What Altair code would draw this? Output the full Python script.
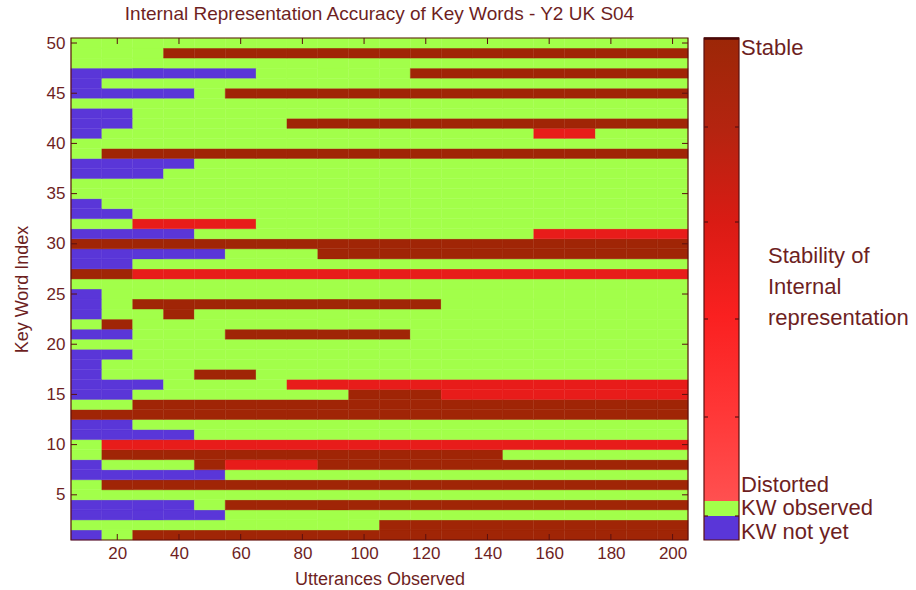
import altair as alt
import pandas as pd

# ---------------- data ----------------
utterances = [10, 20, 30, 40, 50, 60, 70, 80, 90, 100,
              110, 120, 130, 140, 150, 160, 170, 180, 190, 200]
key_words = list(range(1, 51))

# one string per key word (index 1 .. 50), one letter per utterance column
# B = KW not yet, G = KW observed, R = Distorted, S = Stable
kw_states = [
    "BGSSSSSSSSSSSSSSSSSS",  # 1
    "GGGGGGGGGGSSSSSSSSSS",  # 2
    "BBBBBGGGGGGGGGGGGGGG",  # 3
    "BBBBGSSSSSSSSSSSSSSS",  # 4
    "GGGGGGGGGGGGGGGGGGGG",  # 5
    "GSSSSSSSSSSSSSSSSSSS",  # 6
    "BBBBBGGGGGGGGGGGGGGG",  # 7
    "BGGGSRRRSSSSSSSSSSSS",  # 8
    "GSSSSSSSSSSSSSGGGGGG",  # 9
    "GRRRRRRRRRRRRRRRRRRR",  # 10
    "BBBBGGGGGGGGGGGGGGGG",  # 11
    "BBGGGGGGGGGGGGGGGGGG",  # 12
    "SSSSSSSSSSSSSSSSSSSS",  # 13
    "GGSSSSSSSSSSSSSSSSSS",  # 14
    "BBGGGGGGGSSSRRRRRRRR",  # 15
    "BBBGGGGRRRRRRRRRRRRR",  # 16
    "BGGGSSGGGGGGGGGGGGGG",  # 17
    "BGGGGGGGGGGGGGGGGGGG",  # 18
    "BBGGGGGGGGGGGGGGGGGG",  # 19
    "GGGGGGGGGGGGGGGGGGGG",  # 20
    "BBGGGSSSSSSGGGGGGGGG",  # 21
    "GSGGGGGGGGGGGGGGGGGG",  # 22
    "BGGSGGGGGGGGGGGGGGGG",  # 23
    "BGSSSSSSSSSSGGGGGGGG",  # 24
    "BGGGGGGGGGGGGGGGGGGG",  # 25
    "GGGGGGGGGGGGGGGGGGGG",  # 26
    "SSRRRRRRRRRRRRRRRRRR",  # 27
    "BBGGGGGGGGGGGGGGGGGG",  # 28
    "BBBBBGGGSSSSSSSSSSSS",  # 29
    "SSSSSSSSSSSSSSSSSSSS",  # 30
    "BBBBGGGGGGGGGGGRRRRR",  # 31
    "GGRRRRGGGGGGGGGGGGGG",  # 32
    "BBGGGGGGGGGGGGGGGGGG",  # 33
    "BGGGGGGGGGGGGGGGGGGG",  # 34
    "GGGGGGGGGGGGGGGGGGGG",  # 35
    "GGGGGGGGGGGGGGGGGGGG",  # 36
    "BBBGGGGGGGGGGGGGGGGG",  # 37
    "BBBBGGGGGGGGGGGGGGGG",  # 38
    "GSSSSSSSSSSSSSSSSSSS",  # 39
    "GGGGGGGGGGGGGGGGGGGG",  # 40
    "BGGGGGGGGGGGGGGRRGGG",  # 41
    "BBGGGGGSSSSSSSSSSSSS",  # 42
    "BBGGGGGGGGGGGGGGGGGG",  # 43
    "GGGGGGGGGGGGGGGGGGGG",  # 44
    "BBBBGSSSSSSSSSSSSSSS",  # 45
    "BGGGGGGGGGGGGGGGGGGG",  # 46
    "BBBBBBGGGGGSSSSSSSSS",  # 47
    "GGGGGGGGGGGGGGGGGGGG",  # 48
    "GGGSSSSSSSSSSSSSSSSS",  # 49
    "GGGGGGGGGGGGGGGGGGGG",  # 50
]

state_codes = ["B", "G", "R", "S"]
state_names = ["KW not yet", "KW observed", "Distorted", "Stable"]

x_ticks = [20, 40, 60, 80, 100, 120, 140, 160, 180, 200]
y_ticks = [5, 10, 15, 20, 25, 30, 35, 40, 45, 50]

legend_labels = ["Stable", "Distorted", "KW observed", "KW not yet"]
colorbar_title = ["Stability of", "Internal", "representation"]

# ---------------- styles ----------------
state_colors = ["#5a36d8", "#a2ff4a", "#e81c1a", "#a02506"]
txt = "#6e1f1f"
frame = "#5a1010"
font = "Liberation Sans"
W, H = 617, 502

code_to_name = dict(zip(state_codes, state_names))
records = []
for kw, row in zip(key_words, kw_states):
    assert len(row) == len(utterances)
    for u, c in zip(utterances, row):
        records.append({"x0": u - 5, "x1": u + 5, "y0": kw - 0.5, "y1": kw + 0.5,
                        "state": code_to_name[c]})
df = pd.DataFrame(records)

xscale = alt.Scale(domain=[5, 205], nice=False, zero=False)
yscale = alt.Scale(domain=[0.5, 50.5], nice=False, zero=False)
xtitle = "Utterances Observed"
ytitle = "Key Word Index"

heat = alt.Chart(df).mark_rect(strokeWidth=0.4).encode(
    x=alt.X("x0:Q", scale=xscale, title=xtitle,
            axis=alt.Axis(values=x_ticks, labelPadding=5, titlePadding=9)),
    x2="x1:Q",
    y=alt.Y("y0:Q", scale=yscale, title=ytitle,
            axis=alt.Axis(values=y_ticks, labelPadding=6, titlePadding=15)),
    y2="y1:Q",
    color=alt.Color("state:N", scale=alt.Scale(domain=state_names, range=state_colors), legend=None),
    stroke=alt.Color("state:N", scale=alt.Scale(domain=state_names, range=state_colors), legend=None),
)

xt = pd.DataFrame({"t": x_ticks})
yt = pd.DataFrame({"t": y_ticks})
tick_layers = [
    alt.Chart(xt).mark_rule(color=frame, strokeWidth=1).encode(
        x=alt.X("t:Q", title=xtitle), y=alt.value(H), y2=alt.value(H - 6)),
    alt.Chart(xt).mark_rule(color=frame, strokeWidth=1).encode(
        x=alt.X("t:Q", title=xtitle), y=alt.value(0), y2=alt.value(6)),
    alt.Chart(yt).mark_rule(color=frame, strokeWidth=1).encode(
        y=alt.Y("t:Q", title=ytitle), x=alt.value(0), x2=alt.value(6)),
    alt.Chart(yt).mark_rule(color=frame, strokeWidth=1).encode(
        y=alt.Y("t:Q", title=ytitle), x=alt.value(W), x2=alt.value(W - 6)),
]

one = pd.DataFrame({"a": [0]})
box = alt.Chart(one).mark_rect(fillOpacity=0, stroke=frame, strokeWidth=1.2).encode(
    x=alt.value(0), x2=alt.value(W), y=alt.value(0), y2=alt.value(H))

# colorbar (legend replica)
cb_x0, cb_x1 = 633, 668
cb_red_bottom, cb_green_bottom = 463, 478
grad = alt.LinearGradient(
    gradient="linear", x1=0, x2=0, y1=0, y2=1,
    stops=[alt.GradientStop(color="#9c2707", offset=0),
           alt.GradientStop(color="#b52410", offset=0.2),
           alt.GradientStop(color="#da1b14", offset=0.4),
           alt.GradientStop(color="#fa2020", offset=0.6),
           alt.GradientStop(color="#ff3636", offset=0.8),
           alt.GradientStop(color="#ff5050", offset=1.0)])
cb_red = alt.Chart(one).mark_rect(fill=grad).encode(
    x=alt.value(cb_x0), x2=alt.value(cb_x1), y=alt.value(0), y2=alt.value(cb_red_bottom))
cb_green = alt.Chart(one).mark_rect(color=state_colors[1]).encode(
    x=alt.value(cb_x0), x2=alt.value(cb_x1), y=alt.value(cb_red_bottom), y2=alt.value(cb_green_bottom))
cb_blue = alt.Chart(one).mark_rect(color=state_colors[0]).encode(
    x=alt.value(cb_x0), x2=alt.value(cb_x1), y=alt.value(cb_green_bottom), y2=alt.value(H))
cb_box = alt.Chart(one).mark_rect(fillOpacity=0, stroke=frame, strokeWidth=1.2).encode(
    x=alt.value(cb_x0), x2=alt.value(cb_x1), y=alt.value(0), y2=alt.value(H))
cb_top = alt.Chart(one).mark_rule(color="#4a0808", strokeWidth=2.5).encode(
    x=alt.value(cb_x0), x2=alt.value(cb_x1), y=alt.value(0.5))
cb_ticks = []
for ty in [89, 184, 281, 379, 478]:
    cb_ticks.append(alt.Chart(one).mark_rule(color=frame, strokeWidth=1.2).encode(
        x=alt.value(cb_x0), x2=alt.value(cb_x0 + 4), y=alt.value(ty)))
    cb_ticks.append(alt.Chart(one).mark_rule(color=frame, strokeWidth=1.2).encode(
        x=alt.value(cb_x1 - 4), x2=alt.value(cb_x1), y=alt.value(ty)))

label_y = [9.5, 447, 470, 494]
texts = []
for lab, ly in zip(legend_labels, label_y):
    texts.append(alt.Chart(one).mark_text(align="left", baseline="middle", font=font,
                                          fontSize=22, color=txt, text=lab).encode(
        x=alt.value(670), y=alt.value(ly)))
for lab, ly in zip(colorbar_title, [218, 249, 280]):
    texts.append(alt.Chart(one).mark_text(align="left", baseline="middle", font=font,
                                          fontSize=22, color=txt, text=lab).encode(
        x=alt.value(697), y=alt.value(ly)))

chart = alt.layer(heat, *tick_layers, box, cb_red, cb_green, cb_blue, cb_box, cb_top,
                  *cb_ticks, *texts).properties(
    width=W, height=H,
    title=alt.TitleParams("Internal Representation Accuracy of Key Words - Y2 UK S04",
                          font=font, fontSize=19, fontWeight="normal", color=txt,
                          anchor="middle", offset=10),
    padding={"left": 71, "top": 38, "right": 228, "bottom": 50},
    autosize=alt.AutoSizeParams(type="none"),
).configure_axis(
    labelFont=font, labelFontSize=17, labelColor=txt,
    titleFont=font, titleFontSize=18, titleFontWeight="normal", titleColor=txt,
    tickSize=0, domain=False, grid=False,
).configure_view(stroke=None)

chart.save("out.html", embed_options={"renderer": "svg", "actions": False})
